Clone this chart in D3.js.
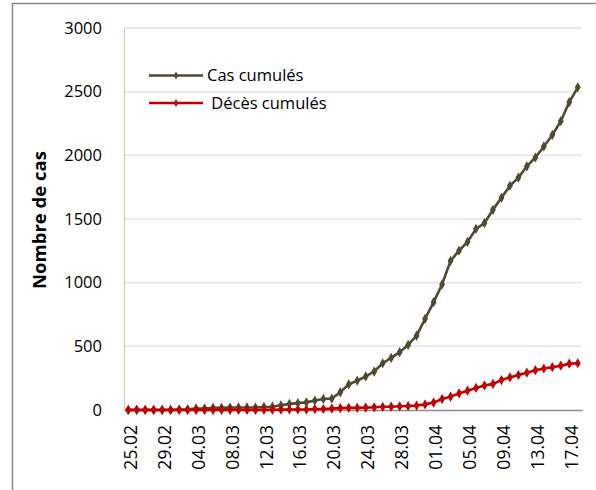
<!DOCTYPE html>
<html><head><meta charset="utf-8">
<script src="https://cdn.jsdelivr.net/npm/d3@7"></script>
<style>body{margin:0;background:#fff}svg{display:block}text{font-family:"Open Sans",sans-serif}</style>
</head><body><svg id="c" width="596" height="490"></svg>
<script>
const dates = ["25.02","26.02","27.02","28.02","29.02","01.03","02.03","03.03","04.03","05.03","06.03","07.03","08.03","09.03","10.03","11.03","12.03","13.03","14.03","15.03","16.03","17.03","18.03","19.03","20.03","21.03","22.03","23.03","24.03","25.03","26.03","27.03","28.03","29.03","30.03","31.03","01.04","02.04","03.04","04.04","05.04","06.04","07.04","08.04","09.04","10.04","11.04","12.04","13.04","14.04","15.04","16.04","17.04","18.04"];
const cas = [1,1,1,1,1,1,3,5,12,12,17,17,19,20,20,20,24,26,37,48,54,60,74,87,90,139,201,230,264,302,367,409,454,511,584,716,847,986,1171,1251,1320,1423,1468,1572,1666,1761,1825,1914,1983,2070,2160,2268,2418,2534];
const deces = [0,0,0,0,0,0,0,0,0,0,0,0,0,0,0,0,1,2,3,4,4,4,7,8,11,15,17,17,19,21,25,26,29,31,35,44,58,86,105,130,152,173,193,205,235,256,275,293,313,326,336,348,364,367];
const yTicks = [0,500,1000,1500,2000,2500,3000];
const seriesNames = ["Cas cumulés"," Décès cumulés"];
const colors = ["#4f4a30","#c00000"];

const svg = d3.select("#c");
svg.append("rect").attr("x",12.5).attr("y",3.5).attr("width",700).attr("height",600)
  .attr("fill","none").attr("stroke","#888").attr("stroke-width",1.5);

const L=124,R=582,T=28,B=410;
const x = d3.scalePoint().domain(dates).range([L,R]).padding(0.5);
const y = d3.scaleLinear().domain([0,3000]).range([B,T]);

svg.append("g").selectAll("line").data(yTicks.filter(d=>d>0)).join("line")
  .attr("x1",L).attr("x2",R).attr("y1",d=>y(d)).attr("y2",d=>y(d))
  .attr("stroke","#e4e2ee").attr("stroke-width",1.5);

const ya = svg.append("g").attr("transform",`translate(${L},0)`)
  .call(d3.axisLeft(y).tickValues(yTicks).tickFormat(d3.format("d")).tickSize(0).tickPadding(22));
ya.select(".domain").attr("stroke","#d8ccb0").attr("stroke-width",1.2);
ya.selectAll("text").attr("font-size",16.5).attr("fill","#000").attr("font-family","Open Sans");

const xa = svg.append("g").attr("transform",`translate(0,${B})`)
  .call(d3.axisBottom(x).tickValues(dates.filter((d,i)=>i%4===0)).tickSize(0).tickPadding(0));
xa.select(".domain").attr("stroke","#8c8c8c").attr("stroke-width",1.5);
xa.selectAll("text").attr("font-size",17.5).attr("fill","#000").attr("font-family","Open Sans")
  .attr("text-anchor","end").attr("dy","0.35em")
  .attr("transform","translate(2,15) rotate(-90)")
  .attr("x",0).attr("y",0);

svg.append("text").attr("transform","translate(46,220) rotate(-90)")
  .attr("text-anchor","middle").attr("font-weight","bold").attr("font-size",18.5)
  .text("Nombre de cas");

const diamond = d3.symbol().type(d3.symbolDiamond).size(30);
[cas,deces].forEach((vals,k)=>{
  const data = vals.map((v,i)=>({d:dates[i],v}));
  svg.append("path").datum(data)
    .attr("fill","none").attr("stroke",colors[k]).attr("stroke-width",2.6)
    .attr("d",d3.line().x(p=>x(p.d)).y(p=>y(p.v)));
  svg.append("g").selectAll("path").data(data).join("path")
    .attr("d",diamond).attr("fill",colors[k])
    .attr("transform",p=>`translate(${x(p.d)},${y(p.v)})`);
});

const lg = svg.append("g");
seriesNames.forEach((n,k)=>{
  const yy = 75.5 + k*27.5;
  lg.append("line").attr("x1",149).attr("x2",203).attr("y1",yy).attr("y2",yy)
    .attr("stroke",colors[k]).attr("stroke-width",2.6);
  lg.append("path").attr("d",d3.symbol().type(d3.symbolDiamond).size(18))
    .attr("fill",colors[k]).attr("transform",`translate(176,${yy})`);
  lg.append("text").attr("x",207).attr("y",yy).attr("dy","0.35em")
    .attr("font-size",16.5).attr("xml:space","preserve").style("white-space","pre").text(n);
});
</script></body></html>
